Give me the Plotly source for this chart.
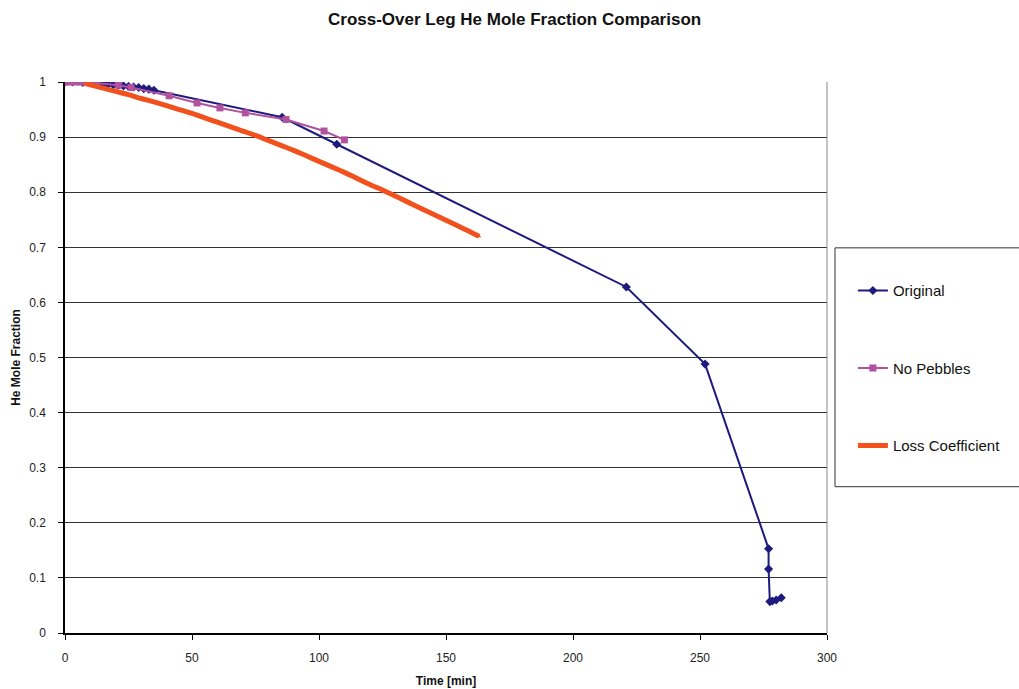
import plotly.graph_objects as go

# Data
orig_t = [0, 3, 7, 15, 17, 19, 21, 23, 25, 27, 29, 31, 33, 35, 85.5, 107, 221, 252, 277, 277, 277.5, 278.5, 280, 282]
orig_y = [1.0, 1.0, 0.999, 0.997, 0.996, 0.995, 0.994, 0.993, 0.992, 0.991, 0.990, 0.988, 0.987, 0.985,
          0.936, 0.887, 0.628, 0.488, 0.153, 0.116, 0.057, 0.058, 0.060, 0.064]

nopeb_t = [0, 2, 4, 6, 8, 21, 26, 41, 52, 61, 71, 87, 102, 110]
nopeb_y = [1.0, 1.0, 1.0, 1.0, 1.0, 0.994, 0.990, 0.975, 0.962, 0.953, 0.944, 0.932, 0.911, 0.895]

loss_t = [8, 15, 20, 25, 30, 35, 40, 45, 50, 55, 60, 65, 70, 75, 80, 85, 90, 95, 100, 105, 110, 115,
          120, 125, 130, 135, 140, 145, 150, 155, 160, 163]
loss_y = [0.997, 0.989, 0.983, 0.977, 0.970, 0.964, 0.957, 0.950, 0.943, 0.935, 0.927, 0.919, 0.911,
          0.903, 0.894, 0.885, 0.876, 0.866, 0.856, 0.846, 0.836, 0.825, 0.814, 0.804, 0.793, 0.782,
          0.771, 0.760, 0.749, 0.738, 0.727, 0.720]

x_ticks = [0, 50, 100, 150, 200, 250, 300]
y_ticks = [0, 0.1, 0.2, 0.3, 0.4, 0.5, 0.6, 0.7, 0.8, 0.9, 1]
y_tick_labels = ["0", "0.1", "0.2", "0.3", "0.4", "0.5", "0.6", "0.7", "0.8", "0.9", "1"]

FONT = "Liberation Sans, Arial, sans-serif"

fig = go.Figure()
fig.add_trace(go.Scatter(
    x=orig_t, y=orig_y, name="Original", mode="lines+markers", legendgroup="a",
    line=dict(color="#1f1b7e", width=2, simplify=False),
    marker=dict(symbol="diamond", size=7, color="#1f1b7e"),
))
fig.add_trace(go.Scatter(
    x=nopeb_t, y=nopeb_y, name="No Pebbles", mode="lines+markers", legendgroup="b",
    line=dict(color="#b0529e", width=2, simplify=False),
    marker=dict(symbol="square", size=7, color="#b0529e"),
))
fig.add_trace(go.Scatter(
    x=loss_t, y=loss_y, name="Loss Coefficient", mode="lines+markers", legendgroup="c",
    line=dict(color="#f2501c", width=5, simplify=False, shape="spline"),
    marker=dict(symbol="triangle-up", size=4, color="#f2501c"),
))

fig.update_layout(
    width=1019, height=689,
    margin=dict(l=65, r=192, t=82, b=56),
    paper_bgcolor="white", plot_bgcolor="white",
    font=dict(family=FONT, size=12, color="#222222"),
    title=dict(text="<b>Cross-Over Leg He Mole Fraction Comparison</b>",
               x=0.505, xanchor="center", yref="container", y=0.973, yanchor="middle",
               font=dict(family=FONT, size=17, color="#111111")),
    showlegend=True,
    legend=dict(
        x=1.034, y=0.651, xanchor="left", yanchor="top",
        borderwidth=0, bgcolor="rgba(0,0,0,0)",
        font=dict(family=FONT, size=15, color="#111111"),
        traceorder="grouped", tracegroupgap=55,
        itemwidth=30,
    ),
)
fig.update_xaxes(
    range=[0, 300], tickvals=x_ticks, ticks="outside", ticklen=5, tickcolor="black",
    showline=True, linecolor="black", linewidth=1.5, mirror=False, automargin=False,
    showgrid=False, zeroline=False, ticklabelstandoff=8,
    title=dict(text="<b>Time [min]</b>", font=dict(family=FONT, size=12, color="#111111"), standoff=12),
    tickfont=dict(family=FONT, size=12, color="#222222"),
)
fig.update_yaxes(
    range=[0, 1], tickvals=y_ticks, ticktext=y_tick_labels, ticks="outside", ticklen=5, tickcolor="black",
    showline=True, linecolor="black", linewidth=1.5, ticklabelstandoff=10, automargin=False,
    showgrid=True, gridcolor="#333333", gridwidth=1, zeroline=False,
    title=dict(text="<b>He Mole Fraction</b>", font=dict(family=FONT, size=12, color="#111111"), standoff=6),
    tickfont=dict(family=FONT, size=12, color="#222222"),
)
# right border of plot area
fig.add_shape(type="line", xref="paper", yref="paper", x0=1, x1=1, y0=0, y1=1,
              line=dict(color="#888888", width=1))
# legend frame
fig.add_shape(type="rect", xref="paper", yref="paper", x0=1.0105, x1=1.255, y0=0.2655, y1=0.699,
              line=dict(color="#333333", width=1), fillcolor="rgba(0,0,0,0)")

fig.write_html("out.html")
